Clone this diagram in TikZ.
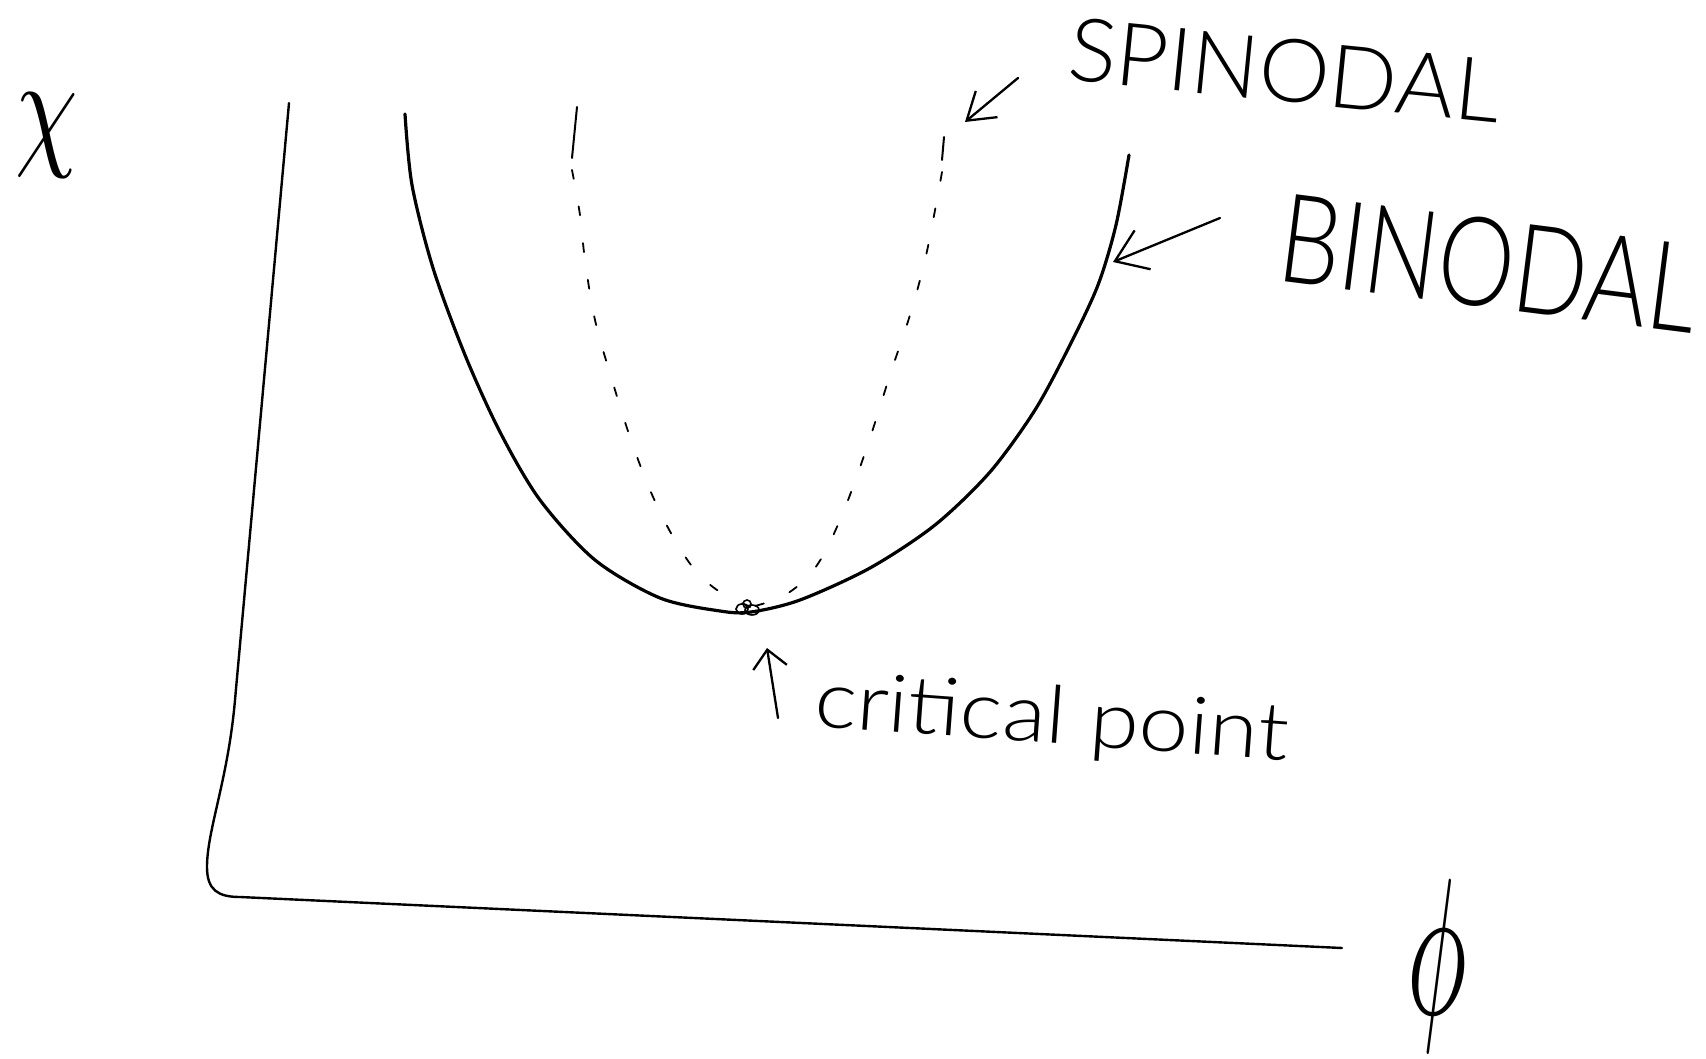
\documentclass[tikz,border=0pt]{standalone}
\usepackage{fontspec}
\newfontfamily\handfont{Lato Light}
\usetikzlibrary{arrows.meta}
\begin{document}
\begin{tikzpicture}[x=1pt,y=-1pt,
  axisline/.style={line width=2.4pt, line cap=round, line join=round},
  bincurve/.style={line width=3.2pt, line cap=round},
  spincurve/.style={line width=1.8pt, line cap=round, dash pattern=on 9pt off 28pt},
  spinsolid/.style={line width=2pt, line cap=round},
  pointer/.style={line width=2.3pt, line cap=round},
  hand/.style={font=\handfont, inner sep=0pt, outer sep=0pt}
]
\useasboundingbox (0,0) rectangle (1706,1059);

% axes
\draw[axisline] (289,103) -- (235,700)
  .. controls (228,780) and (207,830) .. (207,867)
  .. controls (207,890) and (218,897) .. (240,897) -- (1342,948);

% binodal
\draw[bincurve] plot[smooth] coordinates {
  (405,114) (412,185) (433,268) (465,355) (500,432) (540,500)
  (595,560) (660,598) (720,611) (751,612) (800,600) (870,568)
  (935,525) (990,472) (1035,410) (1070,345) (1098,285) (1116,225) (1129,155)};

% spinodal
\draw[spinsolid] (577,107) -- (572,158);
\draw[spinsolid] (944,137) -- (942,160);
\draw[spincurve] plot[smooth, tension=0.6] coordinates {
  (572,170) (580,215) (585,260) (595,320) (612,380) (630,437) (650,490)
  (672,535) (695,570) (720,592) (751,607)};
\draw[spincurve] plot[smooth, tension=0.6] coordinates {
  (942,172) (936,205) (925,260) (910,315) (890,375) (866,450) (840,520)
  (815,568) (785,595) (751,607)};

% critical point scribble
\draw[line width=1.6pt] (742,609) circle[x radius=6pt, y radius=5pt];
\draw[line width=1.6pt] (752,610) circle[x radius=7pt, y radius=5pt];
\draw[line width=1.6pt] (747,604) circle[x radius=4pt, y radius=4pt];

% labels
\node[inner sep=0pt, anchor=center] (chi) at (47,136) {\scalebox{10}[13.5]{$\chi$}};
\node[inner sep=0pt, anchor=center] (phi) at (1437,966) {\scalebox{10}[19.5]{$\phi$}};

\node[hand, anchor=base west, rotate=-5.7, xscale=1.02,
      font=\handfont\fontsize{88}{88}\selectfont] (spinlabel) at (1066,80) {SPINODAL};
\node[hand, anchor=base west, rotate=-7.2, xscale=0.78,
      font=\handfont\fontsize{124}{124}\selectfont] (binlabel) at (1275,281) {BINODAL};
\node[hand, anchor=base west, rotate=-4.2, xscale=1.12,
      font=\handfont\fontsize{80}{80}\selectfont] (critlabel) at (813,726) {critical point};

% pointers
\coordinate (spintail) at (1018,78);
\coordinate (spintip) at (965,122);
\coordinate (bintail) at (1220,218);
\coordinate (bintip) at (1113,262);
\coordinate (crittail) at (778,718);
\coordinate (crittip) at (767,648);
\draw[pointer, -{Straight Barb[length=26pt, width=34pt]}] (spintail) -- (spintip);
\draw[pointer, -{Straight Barb[length=30pt, width=42pt]}] (bintail) -- (bintip);
\draw[pointer, -{Straight Barb[length=18pt, width=34pt]}] (crittail) -- (crittip);
\end{tikzpicture}
\end{document}
